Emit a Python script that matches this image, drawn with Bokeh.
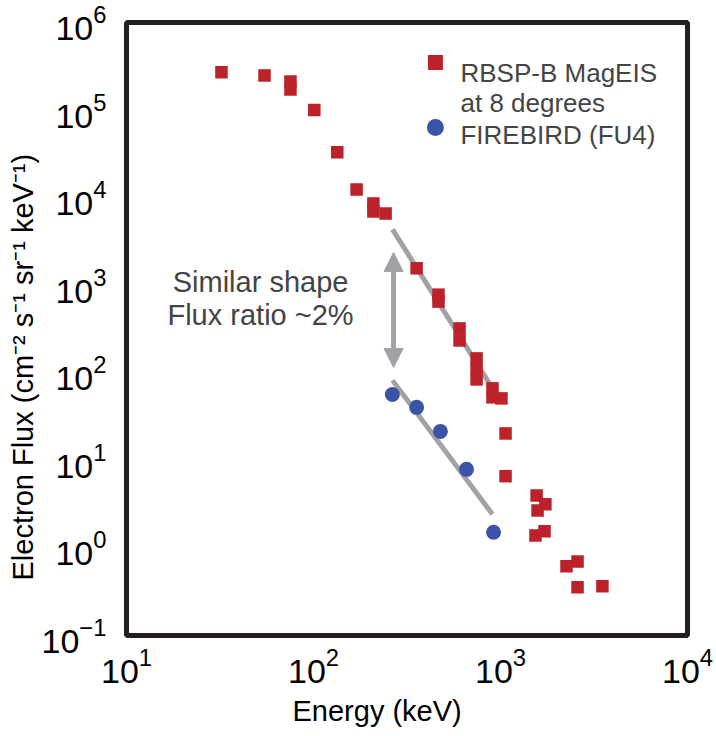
import math
from bokeh.plotting import figure
from bokeh.models import FixedTicker, Label, Arrow, NormalHead, Title
from bokeh.embed import file_html
from bokeh.resources import INLINE

# ---------------- data ----------------
rbsp_energy = [32.2, 54.7, 75.3, 75.3, 101, 134, 170, 209, 209, 243,
               356, 466, 466, 604, 604, 745, 745, 745, 906, 906, 1012,
               1064, 1064, 1560, 1738, 1578, 1720, 1538, 2254, 2582, 2582, 3508]
rbsp_flux = [2.7e5, 2.48e5, 2.12e5, 1.72e5, 1.0e5, 3.3e4, 1.24e4, 8.6e3, 6.95e3, 6.6e3,
             1.56e3, 780, 650, 321, 234, 146, 109, 84, 66.4, 52.4, 51,
             20.3, 6.6, 3.98, 3.15, 2.68, 1.55, 1.39, 0.617, 0.70, 0.355, 0.365]

fb_energy = [264, 356, 477, 658, 918]
fb_flux = [56.6, 40.3, 21.4, 7.9, 1.51]

fit_energy = [264.6, 906]
fit_rbsp_flux = [4335, 66.4]
fit_fb_flux = [81.9, 2.42]

arrow_energy = 268
arrow_flux = [2366, 115]

x_ticks = [10, 100, 1000, 10000]
y_ticks = [0.1, 1, 10, 100, 1e3, 1e4, 1e5, 1e6]

x_title = "Energy (keV)"
y_title = "Electron Flux (cm\u207b\u00b2 s\u207b\u00b9 sr\u207b\u00b9 keV\u207b\u00b9)"
series_labels = ["RBSP-B MagEIS", "at 8 degrees", "FIREBIRD (FU4)"]
note_lines = ["Similar shape", "Flux ratio ~2%"]

RED = "#bd2129"
BLUE = "#3b54a5"
GRAY = "#a0a2a5"
DARK = "#231f20"
FONT = "Liberation Sans"

p = figure(x_axis_type="log", y_axis_type="log",
           x_range=(10, 1e4), y_range=(0.1, 1e6),
           frame_width=561, frame_height=613,
           min_border_left=126, min_border_right=29,
           min_border_top=22, min_border_bottom=101,
           output_backend="svg", toolbar_location=None)

p.grid.visible = False
p.outline_line_color = DARK
p.outline_line_width = 5
p.background_fill_color = "white"
p.border_fill_color = "white"

for ax, ticks in ((p.xaxis, x_ticks), (p.yaxis, y_ticks)):
    ax.ticker = FixedTicker(ticks=ticks)
    ax.axis_line_color = None
    ax.major_tick_line_color = None
    ax.minor_tick_line_color = None
    ax.major_label_text_font = FONT
    ax.major_label_text_font_size = "34px"
    ax.major_label_text_color = "black"

p.xaxis.major_label_standoff = 6
p.yaxis.major_label_standoff = 14

# axis titles (placed as side titles so they can be offset like the original)
p.add_layout(Title(text=x_title, align="left", offset=166, standoff=14,
                   text_font=FONT, text_font_size="29px", text_font_style="normal",
                   text_color="black"), "below")
p.add_layout(Title(text=y_title, align="left", offset=55, standoff=0,
                   text_font=FONT, text_font_size="29px", text_font_style="normal",
                   text_color="black"), "left")

# fit lines
p.line(fit_energy, fit_rbsp_flux, line_color=GRAY, line_width=5)
p.line(fit_energy, fit_fb_flux, line_color=GRAY, line_width=5)

# data
p.scatter(rbsp_energy, rbsp_flux, marker="square", size=12.5, fill_color=RED, line_color=None)
p.scatter(fb_energy, fb_flux, marker="circle", size=15, fill_color=BLUE, line_color=None)

# double arrow
p.add_layout(Arrow(start=NormalHead(size=19, fill_color=GRAY, line_color=GRAY, line_width=1),
                   end=NormalHead(size=19, fill_color=GRAY, line_color=GRAY, line_width=1),
                   x_start=arrow_energy, y_start=arrow_flux[0],
                   x_end=arrow_energy, y_end=arrow_flux[1],
                   line_color=GRAY, line_width=5))

# annotation
p.add_layout(Label(x=52.1, y=1077, text=note_lines[0], text_align="center",
                   text_baseline="alphabetic", text_font=FONT, text_font_size="29px"))
p.add_layout(Label(x=52.1, y=452, text=note_lines[1], text_align="center",
                   text_baseline="alphabetic", text_font=FONT, text_font_size="29px"))

# legend (manual)
p.scatter([448.7], [3.49e5], marker="square", size=15, fill_color=RED, line_color=None)
p.scatter([448.7], [6.32e4], marker="circle", size=17, fill_color=BLUE, line_color=None)
for txt, yy in zip(series_labels, [2.68e5, 1.22e5, 5.13e4]):
    p.add_layout(Label(x=611, y=yy, text=txt, text_align="left",
                       text_baseline="alphabetic", text_font=FONT, text_font_size="26px"))

open("out.html", "w").write(file_html(p, INLINE))
